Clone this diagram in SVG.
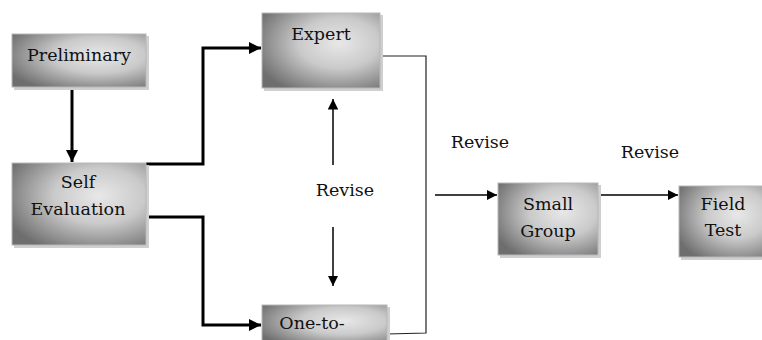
<svg xmlns="http://www.w3.org/2000/svg" width="762" height="340" viewBox="0 0 762 340">
<defs>
<radialGradient id="g" cx="0.65" cy="0.4" r="0.75">
<stop offset="0" stop-color="#e8e8e8"/>
<stop offset="0.45" stop-color="#cacaca"/>
<stop offset="1" stop-color="#6e6e6e"/>
</radialGradient>
<marker id="ah" viewBox="0 0 10 10" refX="10" refY="5" markerWidth="4.5" markerHeight="4" orient="auto" markerUnits="strokeWidth">
<path d="M0,0 L10,5 L0,10 z" fill="#000"/>
</marker>
<marker id="ah2" viewBox="0 0 10 10" refX="10" refY="5" markerWidth="7" markerHeight="7" orient="auto" markerUnits="strokeWidth">
<path d="M0,0 L10,5 L0,10 z" fill="#000"/>
</marker>
</defs>
<style>
.box{fill:url(#g);stroke:#b8b8b8;stroke-width:1}
.sh{fill:#cfcfcf}
.t{font-family:"DejaVu Serif",serif;font-size:17.5px;fill:#111;text-anchor:middle}
.c{fill:none;stroke:#000;stroke-width:3}
.c2{fill:none;stroke:#000;stroke-width:1.5}
.c3{fill:none;stroke:#222;stroke-width:1.2}
</style>
<g id="connectors">
<path class="c" d="M72,88 L72,162" marker-end="url(#ah)"/>
<path class="c" d="M146,164 L203,164 L203,48 L261,48" marker-end="url(#ah)"/>
<path class="c" d="M146,217 L203,217 L203,325 L261,325" marker-end="url(#ah)"/>
<path class="c3" d="M380,56 L426,56 L426,333 L387,334"/>
<path class="c2" d="M333,165 L333,99" marker-end="url(#ah2)"/>
<path class="c2" d="M333,227 L333,286" marker-end="url(#ah2)"/>
<path class="c2" d="M435,195 L497,195" marker-end="url(#ah2)"/>
<path class="c2" d="M598,195 L678,195" marker-end="url(#ah2)"/>
</g>
<g id="preliminary">
<rect class="sh" x="14" y="36" width="135" height="54"/>
<rect class="box" x="12" y="34" width="134" height="53"/>
<text class="t" x="79" y="61">Preliminary</text>
</g>
<g id="expert">
<rect class="sh" x="264" y="15" width="119" height="76"/>
<rect class="box" x="262" y="13" width="118" height="75"/>
<text class="t" x="321" y="40">Expert</text>
</g>
<g id="self-evaluation">
<rect class="sh" x="14" y="165" width="135" height="83"/>
<rect class="box" x="12" y="163" width="134" height="82"/>
<text class="t" x="78" y="188">Self</text>
<text class="t" x="78" y="215">Evaluation</text>
</g>
<g id="one-to-one">
<rect class="sh" x="264" y="307" width="126" height="40"/>
<rect class="box" x="262" y="305" width="125" height="40"/>
<text class="t" x="312" y="329">One-to-</text>
</g>
<g id="small-group">
<rect class="sh" x="500" y="185" width="101" height="73"/>
<rect class="box" x="498" y="183" width="100" height="72"/>
<text class="t" x="548" y="210">Small</text>
<text class="t" x="548" y="237">Group</text>
</g>
<g id="field-test">
<rect class="sh" x="681" y="188" width="90" height="72"/>
<rect class="box" x="679" y="186" width="90" height="71"/>
<text class="t" x="723" y="210">Field</text>
<text class="t" x="723" y="236">Test</text>
</g>
<g id="labels">
<text class="t" x="345" y="196">Revise</text>
<text class="t" x="480" y="148">Revise</text>
<text class="t" x="650" y="158">Revise</text>
</g>
</svg>
